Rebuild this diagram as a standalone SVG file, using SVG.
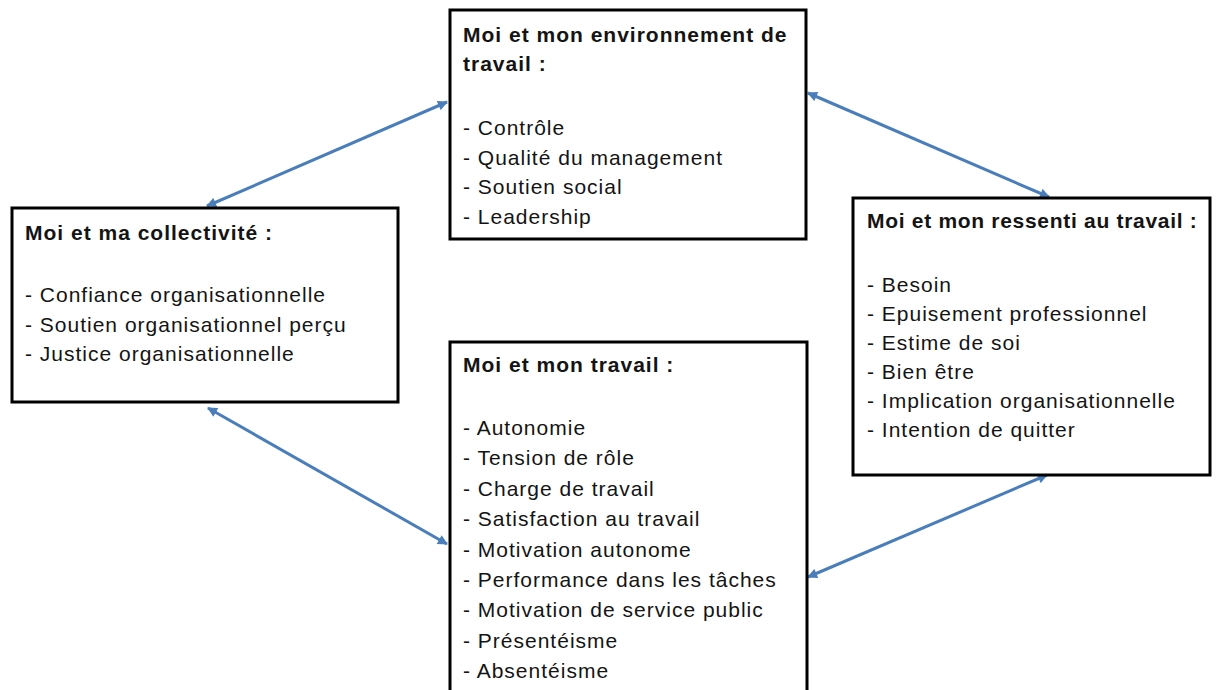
<svg xmlns="http://www.w3.org/2000/svg" width="1216" height="690" viewBox="0 0 1216 690">
<defs>
<style>
.box{fill:#fff;stroke:#000;stroke-width:3}
.t{font-family:"Liberation Sans",Arial,sans-serif;font-size:21px;fill:#141414;letter-spacing:1px}
.b{font-weight:bold;letter-spacing:1px}
.c{stroke:#4a7ebb;stroke-width:3;fill:none;marker-start:url(#ah);marker-end:url(#ah)}
</style>
<marker id="ah" viewBox="0 0 10 10" refX="9" refY="5" markerWidth="12" markerHeight="10" markerUnits="userSpaceOnUse" orient="auto-start-reverse">
<path d="M0,0 L10,5 L0,10 z" fill="#4a7ebb"/>
</marker>
</defs>
<rect width="1216" height="690" fill="#fff"/>
<g id="connectors">
<line class="c" x1="207" y1="206" x2="447" y2="102"/>
<line class="c" x1="808" y1="93" x2="1049" y2="197"/>
<line class="c" x1="208" y1="408" x2="447" y2="544"/>
<line class="c" x1="1047" y1="475" x2="808" y2="577"/>
</g>
<g id="node-environnement">
<rect class="box" x="450" y="10" width="356" height="229"/>
<text class="t b" x="463" y="42">Moi et mon environnement de</text>
<text class="t b" x="463" y="71">travail :</text>
<text class="t" x="463" y="135">- Contrôle</text>
<text class="t" x="463" y="164.5">- Qualité du management</text>
<text class="t" x="463" y="194">- Soutien social</text>
<text class="t" x="463" y="223.5">- Leadership</text>
</g>
<g id="node-collectivite">
<rect class="box" x="12" y="208" width="386" height="194"/>
<text class="t b" x="25" y="240">Moi et ma collectivité :</text>
<text class="t" x="25" y="302">- Confiance organisationnelle</text>
<text class="t" x="25" y="331.5">- Soutien organisationnel perçu</text>
<text class="t" x="25" y="361">- Justice organisationnelle</text>
</g>
<g id="node-ressenti">
<rect class="box" x="853" y="198" width="357" height="277"/>
<text class="t b" x="867" y="228" style="letter-spacing:0.7px">Moi et mon ressenti au travail :</text>
<text class="t" x="867" y="292">- Besoin</text>
<text class="t" x="867" y="321">- Epuisement professionnel</text>
<text class="t" x="867" y="350">- Estime de soi</text>
<text class="t" x="867" y="379">- Bien être</text>
<text class="t" x="867" y="408">- Implication organisationnelle</text>
<text class="t" x="867" y="437">- Intention de quitter</text>
</g>
<g id="node-travail">
<rect class="box" x="450" y="342" width="357" height="360"/>
<text class="t b" x="463" y="372">Moi et mon travail :</text>
<text class="t" x="463" y="435">- Autonomie</text>
<text class="t" x="463" y="465.4">- Tension de rôle</text>
<text class="t" x="463" y="495.8">- Charge de travail</text>
<text class="t" x="463" y="526.2">- Satisfaction au travail</text>
<text class="t" x="463" y="556.6">- Motivation autonome</text>
<text class="t" x="463" y="587">- Performance dans les tâches</text>
<text class="t" x="463" y="617.4">- Motivation de service public</text>
<text class="t" x="463" y="647.8">- Présentéisme</text>
<text class="t" x="463" y="678">- Absentéisme</text>
</g>
</svg>
